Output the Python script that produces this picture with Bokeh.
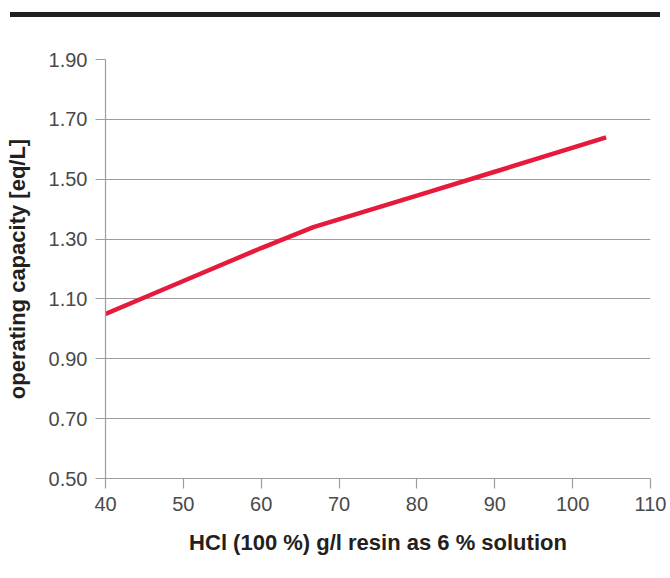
from bokeh.plotting import figure
from bokeh.layouts import column
from bokeh.models import Range1d, FixedTicker, NumeralTickFormatter, Div
from bokeh.embed import file_html
from bokeh.resources import INLINE

# data
hcl = [40, 50, 60, 66.7, 80, 90, 104.3]
capacity = [1.05, 1.16, 1.27, 1.34, 1.445, 1.525, 1.64]
x_ticks = [40, 50, 60, 70, 80, 90, 100, 110]
y_ticks = [0.50, 0.70, 0.90, 1.10, 1.30, 1.50, 1.70, 1.90]

FONT = "Liberation Sans"
GRAY = "#9d9d9d"

# top rule
rule = Div(text="", width=650, height=5, margin=(12, 0, 0, 10),
           styles={"background-color": "#231f20"})

p = figure(width=668, height=550, output_backend="svg", toolbar_location=None,
           x_range=Range1d(40, 110), y_range=Range1d(0.5, 1.9),
           min_border_left=105, min_border_right=18,
           min_border_top=42, min_border_bottom=89)
p.outline_line_color = None

p.line(hcl, capacity, line_color="#e61a3c", line_width=4.5)

p.xaxis.ticker = FixedTicker(ticks=x_ticks)
p.yaxis.ticker = FixedTicker(ticks=y_ticks)
p.yaxis.formatter = NumeralTickFormatter(format="0.00")

for ax in (p.xaxis, p.yaxis):
    ax.axis_line_color = GRAY
    ax.axis_line_width = 1.2
    ax.major_tick_line_color = GRAY
    ax.major_tick_line_width = 1.2
    ax.major_tick_out = 10
    ax.major_tick_in = 0
    ax.minor_tick_line_color = None
    ax.major_label_text_font = FONT
    ax.major_label_text_font_size = "20px"
    ax.major_label_text_color = "#4a4a4a"
    ax.axis_label_text_font = FONT
    ax.axis_label_text_font_style = "bold"
    ax.axis_label_text_color = "#231f20"
    ax.axis_label_text_font_size = "22px"

p.xaxis.axis_label = "HCl (100 %) g/l resin as 6 % solution"
p.yaxis.axis_label = "operating capacity [eq/L]"
p.xaxis.major_label_standoff = 8
p.yaxis.major_label_standoff = 8
p.xaxis.axis_label_standoff = 16
p.yaxis.axis_label_standoff = 16

p.xgrid.visible = False
p.ygrid.grid_line_color = GRAY
p.ygrid.grid_line_width = 1.2

layout = column(rule, p, spacing=0)
open("out.html", "w").write(file_html(layout, INLINE))
